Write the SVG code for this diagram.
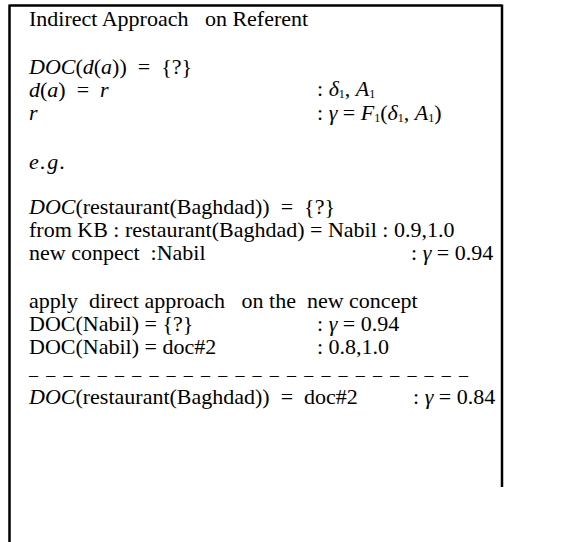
<svg xmlns="http://www.w3.org/2000/svg" width="570" height="542" viewBox="0 0 570 542">
<style>
text{font-family:"Liberation Serif","Times New Roman",serif;font-size:22px;fill:#000}
.i{font-style:italic}
.sub{font-size:12px;font-style:normal}
.dash{font-size:18px}
.frame{stroke:#000;stroke-width:2.5;fill:none}
</style>
<rect width="570" height="542" fill="#fff"/>
<g id="frame"><path class="frame" d="M9.5 5.5 H502 M9.5 4.5 V542 M502 4.5 V487"/></g>
<g id="title"><text x="29" y="26" xml:space="preserve">Indirect Approach   on Referent</text></g>
<g id="general">
<text x="29" y="74" xml:space="preserve"><tspan class="i">DOC</tspan>(<tspan class="i">d</tspan>(<tspan class="i">a</tspan>))  =  {?}</text>
<text x="29" y="97" xml:space="preserve"><tspan class="i">d</tspan>(<tspan class="i">a</tspan>)  =  <tspan class="i">r</tspan></text>
<text x="317" y="96">: <tspan class="i">δ</tspan><tspan class="sub" dy="2">1</tspan><tspan dy="-2">, </tspan><tspan class="i">A</tspan><tspan class="sub" dy="2">1</tspan></text>
<text x="29" y="120" class="i">r</text>
<text x="317" y="120" xml:space="preserve">: <tspan class="i">γ</tspan> = <tspan class="i">F</tspan><tspan class="sub" dy="2">1</tspan><tspan dy="-2">(</tspan><tspan class="i">δ</tspan><tspan class="sub" dy="2">1</tspan><tspan dy="-2">, </tspan><tspan class="i">A</tspan><tspan class="sub" dy="2">1</tspan><tspan dy="-2">)</tspan></text>
</g>
<g id="example">
<text x="29" y="169" class="i" letter-spacing="1.5">e.g.</text>
<text x="29" y="214" xml:space="preserve"><tspan class="i">DOC</tspan>(restaurant(Baghdad))  =  {?}</text>
<text x="29" y="237">from KB : restaurant(Baghdad) = Nabil : 0.9,1.0</text>
<text x="29" y="260" xml:space="preserve">new conpect  :Nabil</text>
<text x="411" y="260">: <tspan class="i">γ</tspan> = 0.94</text>
<text x="29" y="308" xml:space="preserve">apply  direct approach   on the  new concept</text>
<text x="29" y="331">DOC(Nabil) = {?}</text>
<text x="317" y="331">: <tspan class="i">γ</tspan> = 0.94</text>
<text x="29" y="354">DOC(Nabil) = doc#2</text>
<text x="317" y="354">: 0.8,1.0</text>
<text x="29" y="381" class="dash" textLength="439" lengthAdjust="spacing">– – – – – – – – – – – – – – – – – – – – – – – – – –</text>
<text x="29" y="404" xml:space="preserve"><tspan class="i">DOC</tspan>(restaurant(Baghdad))  =  doc#2</text>
<text x="413" y="404">: <tspan class="i">γ</tspan> = 0.84</text>
</g>
</svg>
